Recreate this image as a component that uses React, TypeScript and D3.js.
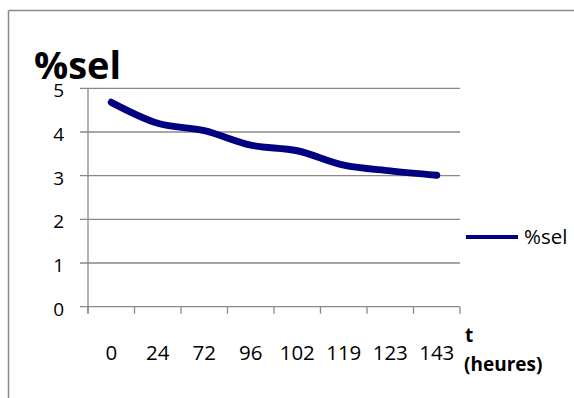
import React from "react";
import * as d3 from "d3";

// Salt percentage over time
const hours: string[] = ["0", "24", "72", "96", "102", "119", "123", "143"];
const selPct: number[] = [4.68, 4.2, 4.03, 3.7, 3.57, 3.24, 3.11, 3.01];
const yTicks: number[] = [0, 1, 2, 3, 4, 5];
const seriesName = "%sel";

const W = 574;
const H = 398;
const plot = { left: 88, right: 460, top: 88.3, bottom: 306.7 };
const FONT = "'Open Sans', 'Noto Sans', sans-serif";
const AXIS = "#898989";
const LINE = "#000080";

export default function App() {
  const x = d3
    .scaleBand<string>()
    .domain(hours)
    .range([plot.left, plot.right])
    .padding(0);
  const y = d3.scaleLinear().domain([0, 5]).range([plot.bottom, plot.top]);

  const line = d3
    .line<number>()
    .x((_, i) => (x(hours[i]) as number) + x.bandwidth() / 2)
    .y((d) => y(d))
    .curve(d3.curveMonotoneX);

  const boundaries = [...hours.map((h) => x(h) as number), plot.right];

  return (
    <svg
      width={W}
      height={H}
      style={{ position: "absolute", left: 0, top: 0, background: "#fff" }}
      fontFamily={FONT}
    >
      {/* chart frame */}
      <line x1={8.5} y1={10.5} x2={W} y2={10.5} stroke={AXIS} strokeWidth={1.5} />
      <line x1={8.5} y1={10.5} x2={8.5} y2={H} stroke={AXIS} strokeWidth={1.5} />

      {/* horizontal gridlines and y ticks */}
      {yTicks.map((t) => (
        <g key={t}>
          <line
            x1={plot.left - 8}
            x2={plot.right}
            y1={y(t)}
            y2={y(t)}
            stroke={AXIS}
            strokeWidth={1.3}
          />
          <text
            x={64}
            y={y(t) + 9}
            textAnchor="end"
            fontSize={19}
            fill="#000"
          >
            {t}
          </text>
        </g>
      ))}

      {/* title */}
      <text x={34} y={79} fontSize={38} fontWeight="bold" fill="#000">
        %sel
      </text>

      {/* y axis */}
      <line
        x1={plot.left}
        x2={plot.left}
        y1={plot.top}
        y2={plot.bottom + 7}
        stroke={AXIS}
        strokeWidth={1.3}
      />

      {/* x tick marks at category boundaries */}
      {boundaries.map((b, i) => (
        <line
          key={i}
          x1={b}
          x2={b}
          y1={plot.bottom}
          y2={plot.bottom + 7}
          stroke={AXIS}
          strokeWidth={1.3}
        />
      ))}

      {/* x tick labels */}
      {hours.map((h) => (
        <text
          key={h}
          x={(x(h) as number) + x.bandwidth() / 2}
          y={360}
          textAnchor="middle"
          fontSize={20.5}
          fill="#000"
        >
          {h}
        </text>
      ))}

      {/* x axis title */}
      <text x={465} y={342} fontSize={19} fontWeight="bold" fill="#000">
        t
      </text>
      <text x={464} y={371} fontSize={19} fontWeight="bold" fill="#000">
        (heures)
      </text>

      {/* series */}
      <path
        d={line(selPct) ?? ""}
        fill="none"
        stroke={LINE}
        strokeWidth={7}
        strokeLinecap="round"
        strokeLinejoin="round"
      />

      {/* legend */}
      <line x1={466} x2={518} y1={237} y2={237} stroke={LINE} strokeWidth={4} />
      <text x={524} y={244} fontSize={20.5} fill="#000">
        {seriesName}
      </text>
    </svg>
  );
}
